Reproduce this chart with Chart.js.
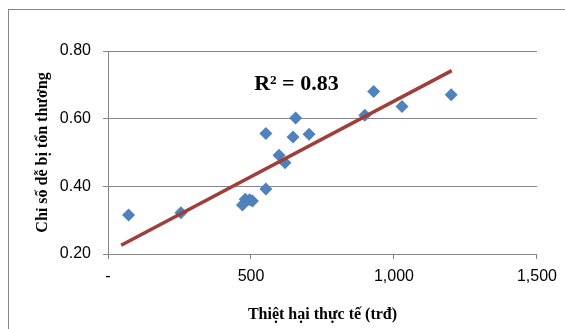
<!DOCTYPE html>
<html>
<head>
<meta charset="utf-8">
<script src="https://cdn.jsdelivr.net/npm/chart.js@4"></script>
<style>
  body { margin: 0; background: #fff; }
</style>
</head>
<body>
<canvas id="chart" width="565" height="329"></canvas>
<script>
// Données
const xValues = [72, 255, 470, 480, 495, 505, 552, 552, 598, 619, 647, 656, 703, 898, 929, 1028, 1200];
const yValues = [0.315, 0.322, 0.345, 0.362, 0.36, 0.357, 0.392, 0.556, 0.492, 0.47, 0.546, 0.602, 0.554, 0.61, 0.68, 0.636, 0.671];
const trendX = [46, 1202];
const trendY = [0.226, 0.742];
const xTickLabels = ['-', '500', '1,000', '1,500'];
const yTickLabels = ['0.20', '0.40', '0.60', '0.80'];
const r2Text = 'R\u00B2 = 0.83';

const gray = '#868686';

const points = xValues.map((x, i) => ({ x: x, y: yValues[i] }));
const trend = trendX.map((x, i) => ({ x: x, y: trendY[i] }));

// Cadre + texte R²
const decorPlugin = {
    id: 'decor',
    beforeDraw(chart) {
        const ctx = chart.ctx;
        ctx.save();
        ctx.fillStyle = '#fff';
        ctx.fillRect(0, 0, chart.width, chart.height);
        ctx.strokeStyle = gray;
        ctx.lineWidth = 1;
        ctx.strokeRect(8.5, 9.5, 800, 600);
        ctx.restore();
    },
    afterDraw(chart) {
        const ctx = chart.ctx;
        const x = chart.scales.x.getPixelForValue(511);
        const y = chart.scales.y.getPixelForValue(0.702);
        ctx.save();
        ctx.font = 'bold 22px "Liberation Serif"';
        ctx.fillStyle = '#000';
        ctx.textAlign = 'left';
        ctx.textBaseline = 'middle';
        ctx.fillText(r2Text, x, y);
        ctx.restore();
    }
};

Chart.defaults.font.family = '"Liberation Sans", Arial, sans-serif';
Chart.defaults.color = '#000';

new Chart(document.getElementById('chart'), {
    type: 'scatter',
    data: {
        datasets: [
            {
                type: 'line',
                data: trend,
                borderColor: '#A03E3A',
                borderWidth: 3.5,
                pointRadius: 0,
                fill: false,
                order: 0
            },
            {
                data: points,
                pointStyle: 'rectRot',
                pointRadius: 6.5,
                backgroundColor: '#4F81BD',
                borderColor: '#4F81BD',
                borderWidth: 0,
                order: 1
            }
        ]
    },
    options: {
        responsive: false,
        animation: false,
        devicePixelRatio: 1,
        layout: { padding: { left: 0, right: 26, top: 51, bottom: 0 } },
        plugins: {
            legend: { display: false },
            tooltip: { enabled: false }
        },
        scales: {
            x: {
                type: 'linear',
                min: 0,
                max: 1500,
                afterFit(scale) { scale.height = 75; },
                ticks: {
                    stepSize: 500,
                    padding: 8,
                    font: { size: 16 },
                    callback: (v, i) => xTickLabels[i]
                },
                grid: {
                    color: 'transparent',
                    tickColor: gray,
                    tickLength: 5
                },
                border: { color: gray },
                title: {
                    display: true,
                    text: 'Thiệt hại thực tế (trđ)',
                    font: { family: '"Liberation Serif"', weight: 'bold', size: 16 },
                    padding: { top: 0, bottom: 5 }
                }
            },
            y: {
                min: 0.2,
                max: 0.8,
                afterFit(scale) { scale.width = 108; },
                ticks: {
                    stepSize: 0.2,
                    padding: 12,
                    font: { size: 16 },
                    callback: (v, i) => yTickLabels[i]
                },
                grid: {
                    color: gray,
                    tickColor: gray,
                    tickLength: 5
                },
                border: { color: gray },
                title: {
                    display: true,
                    text: 'Chỉ số dễ bị tổn thương',
                    font: { family: '"Liberation Serif"', weight: 'bold', size: 16 },
                    padding: { top: 33, bottom: 0 }
                }
            }
        }
    },
    plugins: [decorPlugin]
});
</script>
</body>
</html>
